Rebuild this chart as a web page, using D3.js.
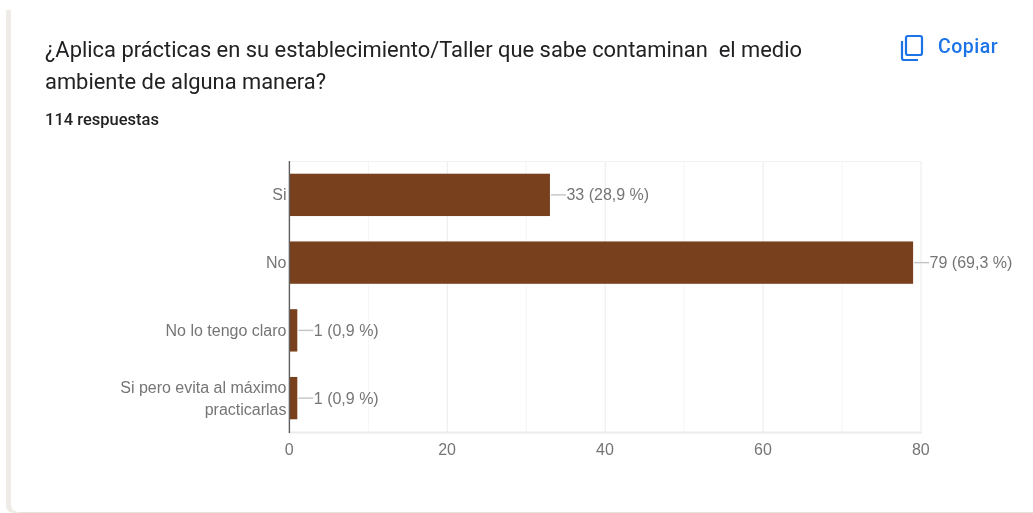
<!DOCTYPE html>
<html><head><meta charset="utf-8">
<script src="https://cdn.jsdelivr.net/npm/d3@7"></script>
<style>html,body{margin:0;padding:0;background:#fff}svg{display:block}</style>
</head><body><svg id="c" width="1033" height="513"></svg>
<script>
const categories = ["Si","No","No lo tengo claro","Si pero evita al máximo|practicarlas"];
const counts = [33,79,1,1];
const percentLabels = ["28,9 %","69,3 %","0,9 %","0,9 %"];
const majorTicks = [0,20,40,60,80];
const minorTicks = [10,30,50,70];
const titleLines = ["¿Aplica prácticas en su establecimiento/Taller que sabe contaminan  el medio","ambiente de alguna manera?"];
const responsesLabel = "114 respuestas";
const copyLabel = "Copiar";

const svg = d3.select("#c");
const font = "Roboto, 'Liberation Sans', sans-serif";
const arial = "'Liberation Sans', Arial, sans-serif";
const x = d3.scaleLinear().domain([0,80]).range([289.4,921]);
const y = d3.scaleBand().domain(categories).range([161,432]).paddingInner(0.375).paddingOuter(0.1875);

svg.append("defs").append("filter").attr("id","soft").attr("x",0).attr("y",0).attr("width","100%").attr("height","100%")
  .append("feGaussianBlur").attr("stdDeviation",0.6);
const root = svg.append("g").attr("filter","url(#soft)");
root.append("rect").attr("width",1033).attr("height",513).attr("fill","#fff");

// card
root.append("path").attr("d","M6 10H11V504Q11 512 20 512V513H14Q6 513 6 505Z").attr("fill","#efebe6");
root.append("path").attr("d","M20 512.5H1033").attr("stroke","#e6e3df").attr("stroke-width",1);

// title
root.selectAll("text.title").data(titleLines).join("text").attr("class","title")
  .attr("x",45).attr("y",(d,i)=>57+i*31.5).style("white-space","pre")
  .attr("font-family",font).attr("font-size",21.9).attr("fill","#202124").text(d=>d);
root.append("text").attr("x",45).attr("y",125).attr("font-family",font).attr("font-size",16.5).attr("font-weight",500)
  .attr("fill","#202124").text(responsesLabel);

// copy
const ic = root.append("g").attr("fill","none").attr("stroke","#1a73e8").attr("stroke-width",2.2);
ic.append("rect").attr("x",906).attr("y",36).attr("width",16).attr("height",19).attr("rx",2);
ic.append("path").attr("d","M902 41V58Q902 60 904 60H918");
root.append("text").attr("x",938).attr("y",53).attr("font-family",font).attr("font-size",19.5).attr("font-weight",500)
  .attr("letter-spacing",0.5).attr("fill","#1a73e8").text(copyLabel);

// grid
root.append("g").selectAll("line").data(minorTicks).join("line")
  .attr("x1",d=>x(d)).attr("x2",d=>x(d)).attr("y1",161).attr("y2",432).attr("stroke","#f5f5f5");
root.append("g").selectAll("line").data(majorTicks.slice(1)).join("line")
  .attr("x1",d=>x(d)).attr("x2",d=>x(d)).attr("y1",161).attr("y2",432).attr("stroke","#ebebeb");
root.append("line").attr("x1",289).attr("x2",922).attr("y1",161.5).attr("y2",161.5).attr("stroke","#f3f3f3");
root.append("line").attr("x1",289).attr("x2",922).attr("y1",432.5).attr("y2",432.5).attr("stroke","#ebebeb").attr("stroke-width",2);

// bars
root.append("g").selectAll("rect").data(categories).join("rect")
  .attr("x",x(0)).attr("y",d=>y(d)).attr("width",(d,i)=>x(counts[i])-x(0)).attr("height",y.bandwidth()).attr("fill","#78401b");
root.append("line").attr("x1",x(0)).attr("x2",x(0)).attr("y1",161).attr("y2",433).attr("stroke","#5f5f5f").attr("stroke-width",1.4);

// annotations
const cy = d=>y(d)+y.bandwidth()/2;
root.append("g").selectAll("line").data(categories).join("line")
  .attr("x1",(d,i)=>x(counts[i])+1).attr("x2",(d,i)=>x(counts[i])+16).attr("y1",cy).attr("y2",cy).attr("stroke","#c4c4c4").attr("stroke-width",1.4);
root.append("g").selectAll("text").data(categories).join("text")
  .attr("x",(d,i)=>x(counts[i])+16.5).attr("y",d=>cy(d)+5.5).attr("font-family",arial).attr("font-size",16).attr("fill","#757575")
  .text((d,i)=>`${counts[i]} (${percentLabels[i]})`);

// category labels
const cat = root.append("g").selectAll("text").data(categories).join("text")
  .attr("text-anchor","end").attr("font-family",arial).attr("font-size",16).attr("fill","#757575");
cat.each(function(d){
  const parts=d.split("|");
  d3.select(this).selectAll("tspan").data(parts).join("tspan").attr("x",286.5)
    .attr("y",(p,i)=>cy(d)+5.5+(i-(parts.length-1)/2)*22).text(p=>p);
});

// x axis labels
const axis = root.append("g").attr("transform","translate(-0.7,449)").call(d3.axisBottom(x).tickValues(majorTicks).tickSize(0).tickPadding(0));
axis.select(".domain").remove();
axis.selectAll("text").attr("font-family",arial).attr("font-size",16).attr("fill","#757575").attr("dy",0).attr("y",6);
</script></body></html>
